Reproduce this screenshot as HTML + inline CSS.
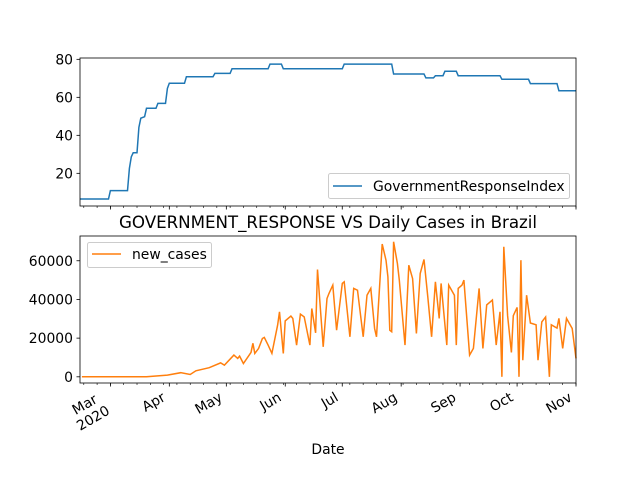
<!DOCTYPE html>
<html><head><meta charset="utf-8"><style>
body{margin:0;background:#fff;}
svg{display:block;font-family:"DejaVu Sans","Liberation Sans",sans-serif;}
</style></head><body>
<svg id="chart" width="640" height="480">
<rect width="640" height="480" fill="#fff"/>
<text x="328" y="228" font-size="16.7" text-anchor="middle" textLength="418">GOVERNMENT_RESPONSE VS Daily Cases in Brazil</text>
<text x="328" y="454" font-size="13.9" text-anchor="middle">Date</text>
</svg>
<script>
// days since Feb 14, 2020
const griDays=[0,15,16,25,26,27,28,30,31,32,34,35,40,41,45,46,47,55,56,70,71,79,80,99,100,106,107,138,139,164,165,181,182,186,187,191,192,198,199,221,222,236,237,251,252,261];
const griValues=[6.5,6.5,10.9,10.9,22.6,28.7,30.8,30.8,44.2,49,49.8,54.2,54.2,56.8,56.8,64.7,67.4,67.4,70.8,70.8,72.6,72.6,75,75,77.5,77.5,75,75,77.5,77.5,72.3,72.3,70.2,70.2,71.4,71.4,73.7,73.7,71.4,71.4,69.5,69.5,67.2,67.2,63.5,63.5];
const caseDays=[1,35,46,53,58,61,68,74,76,81,83,84,86,90,91,92,94,96,97,99,101,104,105,107,108,111,112,114,116,118,121,122,124,125,128,130,131,133,135,138,139,142,144,146,149,151,153,155,156,159,161,162,163,164,165,167,168,171,173,175,177,179,181,183,185,187,189,190,193,194,197,198,199,201,202,205,207,210,212,214,217,219,221,222,223,225,227,228,230,231,232,233,235,237,240,241,243,245,247,248,251,252,254,256,259,261];
const caseValues=[0,0,0.9,2.1,1.2,3.1,4.7,7.2,6.0,11.2,9.5,10.7,6.9,12.6,17.3,12.1,14.7,19.8,20.4,16.4,12.1,26.7,33.6,12.1,28.9,31.4,30.2,16.4,32.4,31.0,16.4,35.3,22.7,55.5,15.5,40.5,43.1,47.4,24.1,48.3,49.1,20.7,45.7,44.8,20.7,42.2,45.7,25.0,20.7,68.6,60.3,51.7,24.1,23.3,69.8,58.6,50.0,16.4,57.7,50.8,22.4,53.4,60.7,41.3,20.7,49.1,30.2,48.3,16.4,47.4,42.2,16.4,45.7,47.4,50.0,11.2,14.7,45.7,14.7,37.2,39.7,16.4,33.6,0,67.2,31.6,12.6,31.6,35.9,0,60.3,8.6,42.2,27.8,26.9,8.6,28.4,30.9,0,26.9,25.2,30.2,14.7,30.2,25.0,9.5];
const monthLabels=["Mar","Apr","May","Jun","Jul","Aug","Sep","Oct","Nov"];
const monthDays=[16,47,77,108,138,169,200,230,261];
const griTicks=[20,40,60,80];
const caseTicks=[0,20000,40000,60000];

const NS="http://www.w3.org/2000/svg";
const svg=document.getElementById('chart');
function mk(tag,attrs,parent){const e=document.createElementNS(NS,tag);for(const k in attrs)e.setAttribute(k,attrs[k]);(parent||svg).appendChild(e);return e;}
const X0=80,X1=576,D=261;
const xs=d=>X0+d*(X1-X0)/D;
const T={top:58,bot:206,min:2.8,max:80.7};
const B={top:236,bot:383,min:-3200,max:72800};
const yT=v=>T.bot-(v-T.min)/(T.max-T.min)*(T.bot-T.top);
const yB=v=>B.bot-(v-B.min)/(B.max-B.min)*(B.bot-B.top);
const FS=13.9;

let p='';
for(let i=0;i<griDays.length;i++)p+=(i?'L':'M')+xs(griDays[i]).toFixed(1)+','+yT(griValues[i]).toFixed(1);
const l1=mk('path',{d:p,fill:'none',stroke:'#1f77b4','stroke-width':1.5});


p='';
for(let i=0;i<caseDays.length;i++)p+=(i?'L':'M')+xs(caseDays[i]).toFixed(1)+','+yB(caseValues[i]*1000).toFixed(1);
const l2=mk('path',{d:p,fill:'none',stroke:'#ff7f0e','stroke-width':1.5});



[[T.top,T.bot,'top-axes-frame'],[B.top,B.bot,'bottom-axes-frame']].forEach(([t,b,n])=>{
 const r=mk('rect',{x:X0,y:t,width:X1-X0,height:b-t,fill:'none',stroke:'#000','stroke-width':0.8});
 
 
});
for(let d=2;d<=D;d+=7){[T.bot,B.bot].forEach(yb=>mk('line',{x1:xs(d),x2:xs(d),y1:yb,y2:yb+2,stroke:'#000','stroke-width':0.6}));}
monthDays.forEach((d,i)=>{
 [T.bot,B.bot].forEach(yb=>mk('line',{x1:xs(d),x2:xs(d),y1:yb,y2:yb+3.5,stroke:'#000','stroke-width':0.8}));
 let x=xs(d)-3,y=B.bot+17;
 if(i===0){x-=9;y+=2;}
 const t=mk('text',{x:x,y:y,'font-size':FS,'text-anchor':'end',transform:`rotate(-30 ${x} ${y})`});
 t.textContent=monthLabels[i];
 
 
 if(i===0){const t2=mk('text',{x:x+5,y:y+16,'font-size':FS,'text-anchor':'end',transform:`rotate(-30 ${x} ${y})`});t2.textContent='2020';
 
 }
});
griTicks.forEach(v=>{const y=yT(v);mk('line',{x1:X0-3.5,x2:X0,y1:y,y2:y,stroke:'#000','stroke-width':0.8});
 const t=mk('text',{x:X0-7,y:y+5,'font-size':FS,'text-anchor':'end'});t.textContent=v;
 
 });
caseTicks.forEach(v=>{const y=yB(v);mk('line',{x1:X0-3.5,x2:X0,y1:y,y2:y,stroke:'#000','stroke-width':0.8});
 const t=mk('text',{x:X0-7,y:y+5,'font-size':FS,'text-anchor':'end'});t.textContent=v;
 
 });
const lg1=mk('g',{});


mk('rect',{x:328.5,y:173.5,width:241,height:25,rx:2,fill:'#fff',stroke:'#ccc','fill-opacity':0.8},lg1);
mk('line',{x1:333,x2:362,y1:186,y2:186,stroke:'#1f77b4','stroke-width':1.5},lg1);
const lt1=mk('text',{x:373,y:191,'font-size':FS},lg1);lt1.textContent='GovernmentResponseIndex';
const lg2=mk('g',{});


mk('rect',{x:87.5,y:242.5,width:124,height:25,rx:2,fill:'#fff',stroke:'#ccc','fill-opacity':0.8},lg2);
mk('line',{x1:92,x2:121,y1:254,y2:254,stroke:'#ff7f0e','stroke-width':1.5},lg2);
const lt2=mk('text',{x:132,y:259,'font-size':FS},lg2);lt2.textContent='new_cases';
</script>
</body></html>
